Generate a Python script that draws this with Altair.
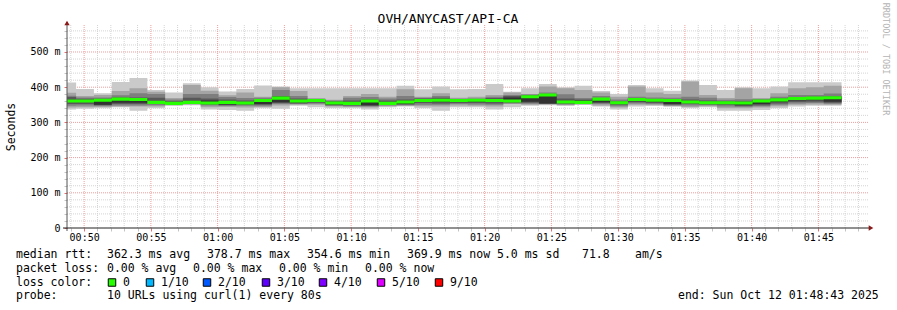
import json
import altair as alt
import pandas as pd

# ---------------- data ----------------
# 80 s rrd steps, first step starts 00:48:04 ; graph spans 00:48:43 .. 01:48:43 (minutes after midnight)
first_step_min = 48 + 4 / 60
step_min = 80 / 60
view_start = 48 + 43 / 60
view_end = 108 + 43 / 60
y_top = 576.7

# ten sorted pings per step (ms), lowest -> highest
ping1 = [337,339,340,343,333,340,347,349,337,335,333,340,339,347,343,340,340,337,343,345,340,333,343,343,337,343,347,349,347,350,345,337,345,347,345,340,343,333,333,335,340,345,347,347]
ping2 = [342,343,344,345,345,345,349,351,343,344,342,344,348,350,350,345,344,342,346,347,346,345,348,347,345,352,350,351,349,351,348,342,350,349,346,344,346,340,340,342,346,350,351,350]
ping3 = [347,348,347,348,348,349,350,352,348,347,347,347,352,352,353,347,346,345,348,349,350,350,352,351,350,354,353,352,351,352,352,346,354,352,348,348,349,345,344,346,350,354,355,353]
ping4 = [352,352,349,352,352,352,351,353,351,349,350,350,355,354,356,349,348,347,350,351,355,354,355,355,354,356,356,353,353,353,355,350,357,355,350,352,351,350,347,349,354,358,359,356]
ping5 = [358,358,350,356,356,355,352,354,353,351,353,352,357,357,358,351,350,349,352,353,359,358,358,358,358,358,359,354,355,354,357,353,360,358,352,355,353,353,349,352,358,362,363,359]
ping6 = [364,363,364,367,366,360,356,360,362,358,357,363,370,362,363,357,356,362,356,360,366,365,363,364,364,371,374,380,360,362,367,358,367,364,363,360,357,357,356,362,365,369,370,371]
ping7 = [372,367,367,371,371,370,360,370,368,365,362,366,375,368,364,360,362,365,362,365,368,370,365,366,369,375,377,381,368,365,369,360,369,366,365,365,362,360,360,364,368,372,373,374]
ping8 = [376,371,371,377,383,381,365,381,381,372,369,370,392,375,366,362,370,372,368,375,370,375,367,368,373,378,379,385,380,369,375,365,373,371,370,373,370,364,366,366,373,378,378,382]
ping9 = [384,375,378,389,397,387,369,406,390,377,385,373,400,389,369,364,375,381,373,394,373,383,370,373,378,385,381,402,397,392,385,373,402,385,381,416,378,369,397,369,383,397,400,404]
ping10 = [413,395,383,415,426,392,385,411,400,388,395,405,402,397,397,397,397,397,397,404,394,402,394,395,409,387,397,409,400,404,389,381,406,397,390,419,406,392,400,397,402,414,414,414]
median = [361,361,363,366,365,357,354,357,355,357,355,362,369,361,362,355,354,361,354,358,362,363,362,363,362,361,373,378,358,357,366,356,365,363,362,358,356,356,355,361,364,368,369,370]

x_tick_labels = ["00:50","00:55","01:00","01:05","01:10","01:15","01:20","01:25","01:30","01:35","01:40","01:45"]
y_tick_labels = ["0","100 m","200 m","300 m","400 m","500 m"]

loss_labels = ["0","1/10","2/10","3/10","4/10","5/10","9/10"]
loss_colors = ["#26ff00","#00b8ff","#0059ff","#5e00ff","#7e00ff","#dd00ff","#ff0000"]

# ---------------- layout ----------------
W, H = 801, 203
PL, PT = 67, 25
FONT = "DejaVu Sans Mono"

n = len(median)
times = [first_step_min + k * step_min for k in range(n + 1)]

xscale = alt.Scale(domain=[view_start, view_end], nice=False, zero=False)
yscale = alt.Scale(domain=[0, y_top], nice=False, zero=True)

x_label_expr = "datum.value % 5 == 0 ? " + json.dumps(x_tick_labels) + "[(datum.value - 50) / 5] : ''"
y_label_expr = "(datum.value % 100 == 0 && datum.value <= 500) ? " + json.dumps(y_tick_labels) + "[datum.value / 100] : ''"

xaxis = alt.Axis(values=list(range(49, 109)), labelExpr=x_label_expr, grid=False, domain=False,
                 tickSize=3, tickColor=alt.condition("datum.value % 5 == 0", alt.value("#e07070"), alt.value("#c4c4c4")),
                 labelFont=FONT, labelFontSize=10, labelColor="#000000", labelPadding=1,
                 labelOverlap=False, labelFlush=False, labelBound=False, title=None)
yaxis = alt.Axis(values=list(range(0, 577, 20)), labelExpr=y_label_expr, grid=False, domain=False,
                 tickSize=3, tickColor=alt.condition("datum.value % 100 == 0", alt.value("#e07070"), alt.value("#c4c4c4")),
                 labelFont=FONT, labelFontSize=10, labelColor="#000000", labelPadding=4,
                 labelOverlap=False, labelBound=False, title=None)


def X(f):
    return alt.X(f, scale=xscale, axis=xaxis, title=None)


def Y(f):
    return alt.Y(f, scale=yscale, axis=yaxis, title=None)


layers = []

# grid (under data)
gx_minor = [m for m in range(49, 109) if m % 5]
gx_major = [m for m in range(49, 109) if m % 5 == 0]
gy_minor = [v for v in range(20, 577, 20) if v % 100]
gy_major = [v for v in range(100, 577, 100)]

layers.append(alt.Chart(pd.DataFrame({"g": gx_minor})).mark_rule(color="#d4d4d4", strokeDash=[1, 1], strokeWidth=1)
              .encode(x=X("g:Q")))
layers.append(alt.Chart(pd.DataFrame({"g": gy_minor})).mark_rule(color="#d4d4d4", strokeDash=[1, 1], strokeWidth=1)
              .encode(y=Y("g:Q")))
layers.append(alt.Chart(pd.DataFrame({"g": gx_major})).mark_rule(color="#ef9d9d", strokeDash=[1, 1], strokeWidth=1)
              .encode(x=X("g:Q")))
layers.append(alt.Chart(pd.DataFrame({"g": gy_major})).mark_rule(color="#ef9d9d", strokeDash=[1, 1], strokeWidth=1)
              .encode(y=Y("g:Q")))

# smoke bands
pings = [ping1, ping2, ping3, ping4, ping5, ping6, ping7, ping8, ping9, ping10]
shades = ["#cacaca", "#a4a4a4", "#7e7e7e", "#585858", "#323232"]
for i in range(5):
    lo = pings[i]
    hi = pings[9 - i]
    df = pd.DataFrame({"t": times, "lo": lo + [lo[-1]], "hi": hi + [hi[-1]]})
    layers.append(
        alt.Chart(df).mark_area(interpolate="step-after", color=shades[i], clip=True)
        .encode(x=X("t:Q"), y=Y("lo:Q"), y2="hi:Q")
    )

# median (loss 0 -> green)
dfm = pd.DataFrame({"t": times, "med": median + [median[-1]]})
layers.append(
    alt.Chart(dfm).transform_calculate(a="datum.med - 4.4", b="datum.med + 4.4")
    .mark_area(interpolate="step-after", color=loss_colors[0], clip=True)
    .encode(x=X("t:Q"), y=Y("a:Q"), y2="b:Q")
)

# axis lines and arrows
one = pd.DataFrame({"a": [0]})
layers.append(alt.Chart(one).mark_rule(color="#555555", strokeWidth=1)
              .encode(x=alt.value(0), y=alt.value(-3), y2=alt.value(H + 3)))
layers.append(alt.Chart(one).mark_rule(color="#222222", strokeWidth=1)
              .encode(x=alt.value(-4), x2=alt.value(W + 2), y=alt.value(H)))
layers.append(alt.Chart(one).mark_point(shape="triangle-up", filled=True, color="#8b1a1a", size=28, opacity=1)
              .encode(x=alt.value(0), y=alt.value(-2)))
layers.append(alt.Chart(one).mark_point(shape="triangle-right", filled=True, color="#8b1a1a", size=28, opacity=1)
              .encode(x=alt.value(W + 3), y=alt.value(H)))


def txt(s, x, y, size=11.5, color="#000000", align="left", angle=0):
    kw = dict(font=FONT, fontSize=size, color=color, align=align, baseline="middle")
    if angle:
        kw["angle"] = angle
    return alt.Chart(one).mark_text(**kw).encode(
        x=alt.value(x - PL), y=alt.value(y - PT), text=alt.value(s))


layers.append(txt("OVH/ANYCAST/API-CA", 448, 19, size=13, align="center"))
layers.append(txt("Seconds", 12, 127, size=11.5, align="center", angle=270))
layers.append(txt("RRDTOOL / TOBI OETIKER", 886, 59, size=8.5, color="#b4b4b4", align="center", angle=90))

legend_items = [
    ("median rtt:", 16, 255), ("362.3 ms avg", 107, 255), ("378.7 ms max", 207, 255),
    ("354.6 ms min", 307, 255), ("369.9 ms now", 407, 255), ("5.0 ms sd", 497, 255),
    ("71.8", 582, 255), ("am/s", 635, 255),
    ("packet loss:", 16, 268.5), ("0.00 % avg", 107, 268.5), ("0.00 % max", 193, 268.5),
    ("0.00 % min", 279, 268.5), ("0.00 % now", 365, 268.5),
    ("loss color:", 16, 282.5),
    ("probe:", 16, 296), ("10 URLs using curl(1) every 80s", 107, 296),
    ("end: Sun Oct 12 01:48:43 2025", 678, 296),
]
for s, x, y in legend_items:
    layers.append(txt(s, x, y))

square_x = [108, 146, 203, 262, 319, 377, 435]
for lab, col, sx in zip(loss_labels, loss_colors, square_x):
    layers.append(alt.Chart(one).mark_square(size=56, filled=True, color=col, stroke="#000000", strokeWidth=1, opacity=1)
                  .encode(x=alt.value(sx + 4 - PL), y=alt.value(282.5 - PT)))
    layers.append(txt(lab, sx + 15, 282.5))

chart = alt.layer(*layers).properties(
    width=W, height=H,
    autosize=alt.AutoSizeParams(type="none"),
    padding={"left": PL, "top": PT, "right": 897 - PL - W, "bottom": 310 - PT - H},
    background="#ffffff",
).configure_view(stroke=None)

chart.save("out.html", embed_options={"renderer": "svg", "actions": False})
